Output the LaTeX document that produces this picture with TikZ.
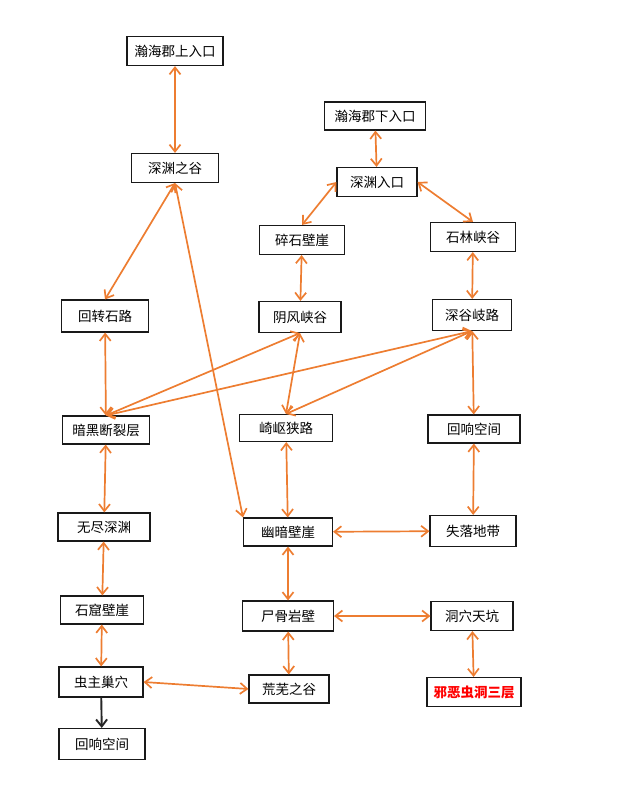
\documentclass[tikz,border=0pt]{standalone}
\usepackage{fontspec}
\newfontfamily\cjk{Noto Sans CJK SC}
\usepackage{tikz}
\usetikzlibrary{arrows.meta}
\definecolor{linkorange}{RGB}{237,125,49}
\definecolor{wormred}{RGB}{255,0,0}
\tikzset{
  room/.style={rectangle, draw=black!90, line width=1.1pt, fill=white, minimum height=29pt, inner sep=0pt, font=\cjk\fontsize{13.5}{15}\selectfont},
  link/.style={{Straight Barb[length=7pt,width=11pt]}-{Straight Barb[length=7pt,width=11pt]}, line width=1.7pt, color=linkorange},
  oneway/.style={-{Straight Barb[length=7pt,width=11pt]}, line width=1.9pt, color=black!85}
}

\begin{document}
\begin{tikzpicture}[x=1pt, y=-1pt]
  \useasboundingbox (0,0) rectangle (626,789);

  % Upper entrance, left column
  \node[room, minimum width=96pt] (upentry) at (175,51) {瀚海郡上入口};
  \node[room, minimum width=87pt] (abyssvalley) at (175,168) {深渊之谷};
  \node[room, minimum width=87pt, minimum height=32pt] (winding) at (105,316) {回转石路};
  \node[room, minimum width=87pt, minimum height=28pt] (rift) at (106,430) {暗黑断裂层};
  \node[room, minimum width=92pt, minimum height=28pt] (endless) at (104,527) {无尽深渊};
  \node[room, minimum width=83pt, minimum height=28pt] (grotto) at (102,610) {石窟壁崖};
  \node[room, minimum width=84pt, minimum height=30pt] (nest) at (101,682) {虫主巢穴};
  \node[room, minimum width=86pt, minimum height=31pt] (echobottom) at (102,744) {回响空间};

  % Lower entrance, middle column
  \node[room, minimum width=101pt, minimum height=28pt] (lowentry) at (375,116) {瀚海郡下入口};
  \node[room, minimum width=80pt] (abyssgate) at (377,182) {深渊入口};
  \node[room, minimum width=85pt] (rubble) at (302,240) {碎石壁崖};
  \node[room, minimum width=82pt, minimum height=31pt] (windvalley) at (300,317) {阴风峡谷};
  \node[room, minimum width=93pt, minimum height=27pt] (narrow) at (286,428) {崎岖狭路};
  \node[room, minimum width=89pt, minimum height=28pt] (darkcliff) at (288,532) {幽暗壁崖};
  \node[room, minimum width=91pt, minimum height=30pt] (bonewall) at (288,616) {尸骨岩壁};
  \node[room, minimum width=80pt, minimum height=28pt] (wasteland) at (289,689) {荒芜之谷};

  % Right column
  \node[room, minimum width=85pt] (stoneforest) at (473,237) {石林峡谷};
  \node[room, minimum width=79pt, minimum height=31pt] (forkroad) at (472,315) {深谷岐路};
  \node[room, minimum width=92pt, minimum height=28pt] (echoright) at (474,429) {回响空间};
  \node[room, minimum width=86pt, minimum height=31pt] (lostzone) at (473,531) {失落地带};
  \node[room, minimum width=82pt] (sinkhole) at (472,616) {洞穴天坑};
  \node[room, minimum width=94pt, text=wormred, font=\cjk\bfseries\fontsize{13.5}{15}\selectfont] (wormhole) at (474,692) {邪恶虫洞三层};

  % Passages
  \draw[link] (upentry) -- (abyssvalley);
  \draw[link] (abyssvalley.south) -- (winding.north);
  \draw[link] (abyssvalley.south) -- (darkcliff.north west);
  \draw[link] (lowentry) -- (abyssgate);
  \draw[link] (abyssgate.west) -- (rubble.north);
  \draw[link] (abyssgate.east) -- (stoneforest.north);
  \draw[link] (rubble) -- (windvalley);
  \draw[link] (stoneforest) -- (forkroad);
  \draw[link] (winding) -- (rift);
  \draw[link] (windvalley.south) -- (rift.north);
  \draw[link] (forkroad.south) -- (rift.north);
  \draw[link] (windvalley.south) -- (narrow.north);
  \draw[link] (forkroad.south) -- (narrow.north);
  \draw[link] (forkroad) -- (echoright);
  \draw[link] (rift) -- (endless);
  \draw[link] (narrow) -- (darkcliff);
  \draw[link] (echoright) -- (lostzone);
  \draw[link] (endless) -- (grotto);
  \draw[link] (darkcliff) -- (lostzone);
  \draw[link] (darkcliff) -- (bonewall);
  \draw[link] (grotto) -- (nest);
  \draw[link] (bonewall) -- (sinkhole);
  \draw[link] (bonewall) -- (wasteland);
  \draw[link] (sinkhole) -- (wormhole);
  \draw[link] (nest.east) -- (wasteland.west);
  \draw[oneway] (nest) -- (echobottom);
\end{tikzpicture}
\end{document}
